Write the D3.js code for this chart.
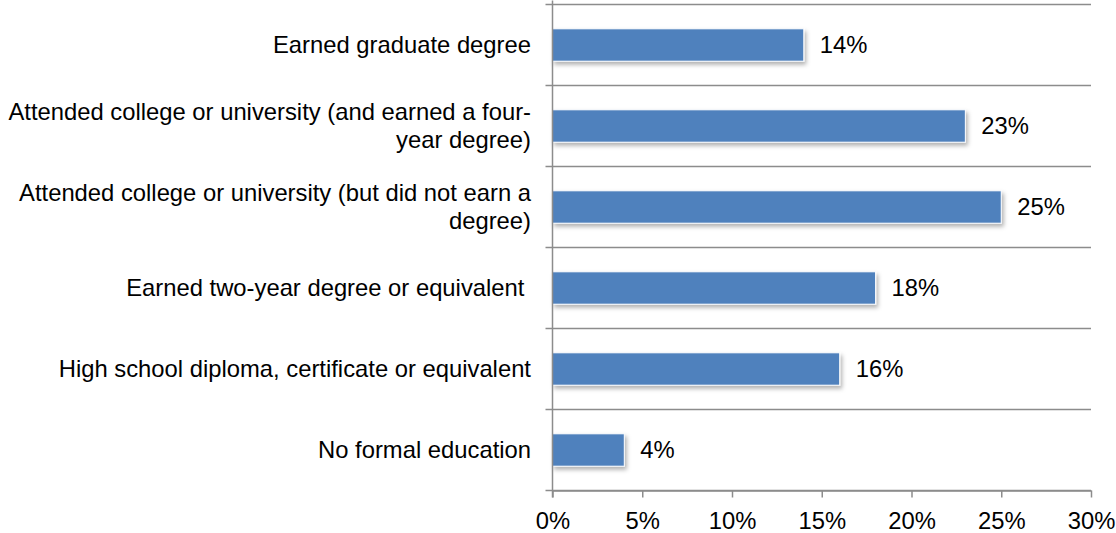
<!DOCTYPE html>
<html>
<head>
<meta charset="utf-8">
<script src="https://cdn.jsdelivr.net/npm/d3@7"></script>
<style>
  html, body { margin: 0; padding: 0; background: #fff; }
  svg { display: block; }
  text { font-family: "Liberation Sans", Arial, sans-serif; fill: #000; }
</style>
</head>
<body>
<svg id="chart" width="1116" height="533"></svg>
<script>
// Highest level of education, share of respondents
const categories = [
  ["Earned graduate degree"],
  ["Attended college or university (and earned a four-", "year degree)"],
  ["Attended college or university (but did not earn a", "degree)"],
  ["Earned two-year degree or equivalent "],
  ["High school diploma, certificate or equivalent"],
  ["No formal education"]
];
const values = [14, 23, 25, 18, 16, 4];
const xTicks = [0, 5, 10, 15, 20, 25, 30];

const FS = 23.8;
const svg = d3.select("#chart");
const plotLeft = 552.5, plotRight = 1091, plotTop = 4.5, plotBottom = 490.5;

const x = d3.scaleLinear().domain([0, 30]).range([plotLeft, plotRight]);
const y = d3.scaleBand().domain(d3.range(categories.length)).range([plotTop, plotBottom]).paddingInner(0.6).paddingOuter(0.3);
const band = d3.scaleBand().domain(d3.range(categories.length)).range([plotTop, plotBottom]);

// soft shadow under the bars
const defs = svg.append("defs");
const f = defs.append("filter").attr("id", "shadow").attr("x", "-5%").attr("y", "-20%").attr("width", "115%").attr("height", "160%");
f.append("feDropShadow").attr("dx", 2).attr("dy", 3).attr("stdDeviation", 2).attr("flood-color", "#000").attr("flood-opacity", 0.3);

// horizontal separators between categories
const seps = d3.range(categories.length + 1).map(i => plotTop + i * band.step());
svg.append("g").selectAll("line").data(seps).join("line")
  .attr("x1", plotLeft - 7).attr("x2", plotRight)
  .attr("y1", d => d).attr("y2", d => d)
  .attr("stroke", "#8c8c8c").attr("stroke-width", 1.5);

// bars
svg.append("g").selectAll("rect").data(values).join("rect")
  .attr("x", x(0)).attr("y", (d, i) => y(i))
  .attr("width", d => x(d) - x(0)).attr("height", y.bandwidth())
  .attr("fill", "#4f81bd").attr("stroke", "#fff").attr("stroke-width", 1)
  .attr("filter", "url(#shadow)");

// vertical axis line
svg.append("line").attr("x1", plotLeft).attr("x2", plotLeft).attr("y1", plotTop - 4).attr("y2", plotBottom + 7)
  .attr("stroke", "#8c8c8c").attr("stroke-width", 1.5);

// bottom axis
const xAxis = d3.axisBottom(x).tickValues(xTicks).tickFormat(d => d + "%").tickSize(7).tickSizeOuter(0);
const ax = svg.append("g").attr("transform", `translate(0,${plotBottom})`).call(xAxis);
ax.select(".domain").attr("stroke", "#8c8c8c").attr("stroke-width", 1.5);
ax.selectAll(".tick line").attr("stroke", "#8c8c8c").attr("stroke-width", 1.5);
ax.selectAll(".tick text").attr("y", 30.5).attr("dy", "0.35em")
  .style("font-family", "'Liberation Sans', Arial, sans-serif").style("font-size", FS + "px").attr("fill", "#000");

// value labels
svg.append("g").selectAll("text").data(values).join("text")
  .attr("x", d => x(d) + 16).attr("y", (d, i) => band(i) + band.step() / 2)
  .attr("dy", "0.35em").style("font-size", FS + "px")
  .text(d => d + "%");

// category labels
const lab = svg.append("g").selectAll("text").data(categories).join("text")
  .attr("text-anchor", "end").attr("xml:space", "preserve").style("white-space", "pre")
  .style("font-size", FS + "px")
  .attr("y", (d, i) => band(i) + band.step() / 2);
lab.each(function(lines) {
  const t = d3.select(this);
  const lh = 28;
  lines.forEach((ln, k) => {
    t.append("tspan").attr("x", 531)
      .attr("dy", k === 0 ? `${0.35 * FS - (lines.length - 1) * lh / 2}px` : `${lh}px`)
      .text(ln);
  });
});
</script>
</body>
</html>
